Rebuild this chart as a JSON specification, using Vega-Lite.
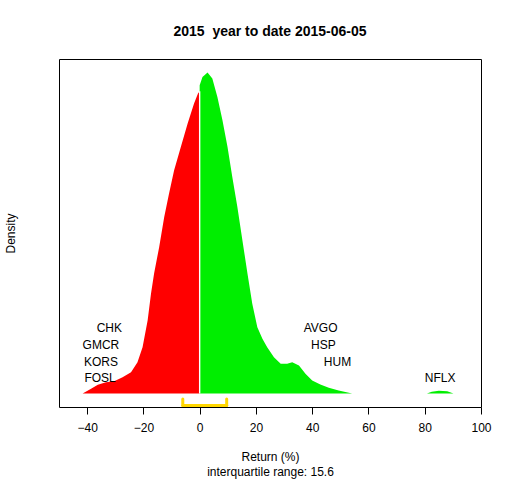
{
  "$schema": "https://vega.github.io/schema/vega-lite/v6.json",
  "autosize": "none",
  "width": 422,
  "height": 348,
  "padding": {"left": 59, "top": 59, "right": 31, "bottom": 73},
  "background": "white",
  "title": {
    "text": "2015\u00a0 year to date 2015-06-05",
    "font": "Liberation Sans",
    "fontSize": 14,
    "fontWeight": "bold",
    "color": "black",
    "anchor": "middle",
    "frame": "group",
    "baseline": "alphabetic",
    "offset": 9
  },
  "datasets": {
    "curve": [
      {"ret": -41.6, "density": 0.0, "side": "neg", "part": "main"},
      {"ret": -38.6, "density": 0.0005, "side": "neg", "part": "main"},
      {"ret": -36.2, "density": 0.00093, "side": "neg", "part": "main"},
      {"ret": -33.3, "density": 0.0012, "side": "neg", "part": "main"},
      {"ret": -30.4, "density": 0.00131, "side": "neg", "part": "main"},
      {"ret": -27.4, "density": 0.00173, "side": "neg", "part": "main"},
      {"ret": -24.4, "density": 0.00227, "side": "neg", "part": "main"},
      {"ret": -22.1, "density": 0.00333, "side": "neg", "part": "main"},
      {"ret": -20.3, "density": 0.00493, "side": "neg", "part": "main"},
      {"ret": -18.5, "density": 0.00777, "side": "neg", "part": "main"},
      {"ret": -17.3, "density": 0.01061, "side": "neg", "part": "main"},
      {"ret": -16.2, "density": 0.01277, "side": "neg", "part": "main"},
      {"ret": -14.4, "density": 0.01556, "side": "neg", "part": "main"},
      {"ret": -12.6, "density": 0.01876, "side": "neg", "part": "main"},
      {"ret": -10.9, "density": 0.02124, "side": "neg", "part": "main"},
      {"ret": -9.1, "density": 0.02372, "side": "neg", "part": "main"},
      {"ret": -6.7, "density": 0.0262, "side": "neg", "part": "main"},
      {"ret": -4.3, "density": 0.02869, "side": "neg", "part": "main"},
      {"ret": -2.0, "density": 0.03082, "side": "neg", "part": "main"},
      {"ret": -0.6, "density": 0.03188, "side": "neg", "part": "main"},
      {"ret": 0.0, "density": 0.03213, "side": "neg", "part": "main"},
      {"ret": 0.0, "density": 0.03277, "side": "pos", "part": "main"},
      {"ret": 1.0, "density": 0.03365, "side": "pos", "part": "main"},
      {"ret": 2.8, "density": 0.03412, "side": "pos", "part": "main"},
      {"ret": 4.5, "density": 0.03348, "side": "pos", "part": "main"},
      {"ret": 6.3, "density": 0.03152, "side": "pos", "part": "main"},
      {"ret": 8.1, "density": 0.02904, "side": "pos", "part": "main"},
      {"ret": 9.9, "density": 0.0262, "side": "pos", "part": "main"},
      {"ret": 11.6, "density": 0.02301, "side": "pos", "part": "main"},
      {"ret": 13.4, "density": 0.01982, "side": "pos", "part": "main"},
      {"ret": 15.2, "density": 0.01628, "side": "pos", "part": "main"},
      {"ret": 17.0, "density": 0.01273, "side": "pos", "part": "main"},
      {"ret": 18.7, "density": 0.00954, "side": "pos", "part": "main"},
      {"ret": 20.5, "density": 0.00705, "side": "pos", "part": "main"},
      {"ret": 22.3, "density": 0.00582, "side": "pos", "part": "main"},
      {"ret": 24.0, "density": 0.00493, "side": "pos", "part": "main"},
      {"ret": 26.4, "density": 0.00386, "side": "pos", "part": "main"},
      {"ret": 28.8, "density": 0.00316, "side": "pos", "part": "main"},
      {"ret": 31.1, "density": 0.00316, "side": "pos", "part": "main"},
      {"ret": 32.9, "density": 0.00333, "side": "pos", "part": "main"},
      {"ret": 35.3, "density": 0.00298, "side": "pos", "part": "main"},
      {"ret": 37.6, "density": 0.0021, "side": "pos", "part": "main"},
      {"ret": 40.0, "density": 0.00138, "side": "pos", "part": "main"},
      {"ret": 42.9, "density": 0.00096, "side": "pos", "part": "main"},
      {"ret": 45.9, "density": 0.00061, "side": "pos", "part": "main"},
      {"ret": 49.4, "density": 0.00032, "side": "pos", "part": "main"},
      {"ret": 54.2, "density": 0.0, "side": "pos", "part": "main"},
      {"ret": 80.8, "density": 0.0, "side": "pos", "part": "tail"},
      {"ret": 82.5, "density": 0.0002, "side": "pos", "part": "tail"},
      {"ret": 85.0, "density": 0.00029, "side": "pos", "part": "tail"},
      {"ret": 88.0, "density": 0.00025, "side": "pos", "part": "tail"},
      {"ret": 90.2, "density": 0.0, "side": "pos", "part": "tail"}
    ],
    "tickers": [
      {"ticker": "CHK", "ret": -32.1, "level": 0.00702},
      {"ticker": "GMCR", "ret": -35.1, "level": 0.00521},
      {"ticker": "KORS", "ret": -35.1, "level": 0.0034},
      {"ticker": "FOSL", "ret": -35.4, "level": 0.00166},
      {"ticker": "AVGO", "ret": 43.0, "level": 0.00702},
      {"ticker": "HSP", "ret": 44.0, "level": 0.00521},
      {"ticker": "HUM", "ret": 49.0, "level": 0.0034},
      {"ticker": "NFLX", "ret": 85.5, "level": 0.00166}
    ],
    "split": [{"ret": 0, "density": 0.03213}],
    "iqr": [{"q1": -6.0, "q3": 9.6}]
  },
  "layer": [
    {
      "data": {"name": "curve"},
      "mark": {"type": "area", "interpolate": "linear"},
      "encoding": {
        "x": {
          "field": "ret",
          "type": "quantitative",
          "scale": {"domain": [-50, 100], "nice": false, "zero": false},
          "axis": {
            "values": [-40, -20, 0, 20, 40, 60, 80, 100],
            "domain": false,
            "grid": false,
            "ticks": true,
            "tickSize": 7,
            "tickColor": "black",
            "labelFont": "Liberation Sans",
            "labelFontSize": 12,
            "labelColor": "black",
            "labelPadding": 8,
            "labelFlush": false,
            "title": ["Return (%)", "interquartile range: 15.6"],
            "titleFont": "Liberation Sans",
            "titleFontSize": 12,
            "titleFontWeight": "normal",
            "titleColor": "black",
            "titleLineHeight": 15,
            "titleBaseline": "top",
            "titleY": 44
          }
        },
        "y": {
          "field": "density",
          "type": "quantitative",
          "stack": null,
          "scale": {"domain": [-0.00143, 0.03556], "nice": false, "zero": false},
          "axis": {
            "domain": false,
            "grid": false,
            "ticks": false,
            "labels": false,
            "title": "Density",
            "titleFont": "Liberation Sans",
            "titleFontSize": 12,
            "titleFontWeight": "normal",
            "titleColor": "black",
            "titleAngle": -90,
            "titleAlign": "center",
            "titleBaseline": "middle",
            "titleX": -49,
            "titleY": 174
          }
        },
        "color": {
          "field": "side",
          "type": "nominal",
          "scale": {"domain": ["neg", "pos"], "range": ["#ff0000", "#00ee00"]},
          "legend": null
        },
        "detail": {"field": "part"}
      }
    },
    {
      "mark": {"type": "rule", "color": "#bebebe", "strokeWidth": 1},
      "encoding": {"y": {"datum": 0}}
    },
    {
      "data": {"name": "split"},
      "mark": {"type": "rule", "color": "white", "strokeWidth": 1.4},
      "encoding": {
        "x": {"field": "ret", "type": "quantitative"},
        "y": {"field": "density", "type": "quantitative"},
        "y2": {"datum": 0}
      }
    },
    {
      "data": {"name": "iqr"},
      "mark": {"type": "rule", "color": "#ffd700", "strokeWidth": 3, "strokeCap": "round"},
      "encoding": {
        "x": {"field": "q1", "type": "quantitative"},
        "x2": {"field": "q3"},
        "y": {"datum": -0.00128}
      }
    },
    {
      "data": {"name": "iqr"},
      "mark": {"type": "rule", "color": "#ffd700", "strokeWidth": 3, "strokeCap": "round"},
      "encoding": {
        "x": {"field": "q1", "type": "quantitative"},
        "y": {"datum": -0.00128},
        "y2": {"datum": -0.00058}
      }
    },
    {
      "data": {"name": "iqr"},
      "mark": {"type": "rule", "color": "#ffd700", "strokeWidth": 3, "strokeCap": "round"},
      "encoding": {
        "x": {"field": "q3", "type": "quantitative"},
        "y": {"datum": -0.00128},
        "y2": {"datum": -0.00058}
      }
    },
    {
      "data": {"name": "tickers"},
      "mark": {"type": "text", "font": "Liberation Sans", "fontSize": 12, "color": "black", "align": "center", "baseline": "middle"},
      "encoding": {
        "x": {"field": "ret", "type": "quantitative"},
        "y": {"field": "level", "type": "quantitative"},
        "text": {"field": "ticker"}
      }
    },
    {
      "mark": {"type": "text", "font": "Liberation Sans", "fontSize": 12, "color": "#ff0000", "align": "center", "baseline": "middle"},
      "encoding": {
        "x": {"datum": -42.5},
        "y": {"datum": 0.03357},
        "text": {"value": "43%"}
      }
    },
    {
      "mark": {"type": "text", "font": "Liberation Sans", "fontSize": 12, "color": "#22a022", "align": "center", "baseline": "middle"},
      "encoding": {
        "x": {"datum": 92.3},
        "y": {"datum": 0.03357},
        "text": {"value": "57%"}
      }
    }
  ],
  "config": {
    "view": {"stroke": "black", "strokeWidth": 1}
  }
}
